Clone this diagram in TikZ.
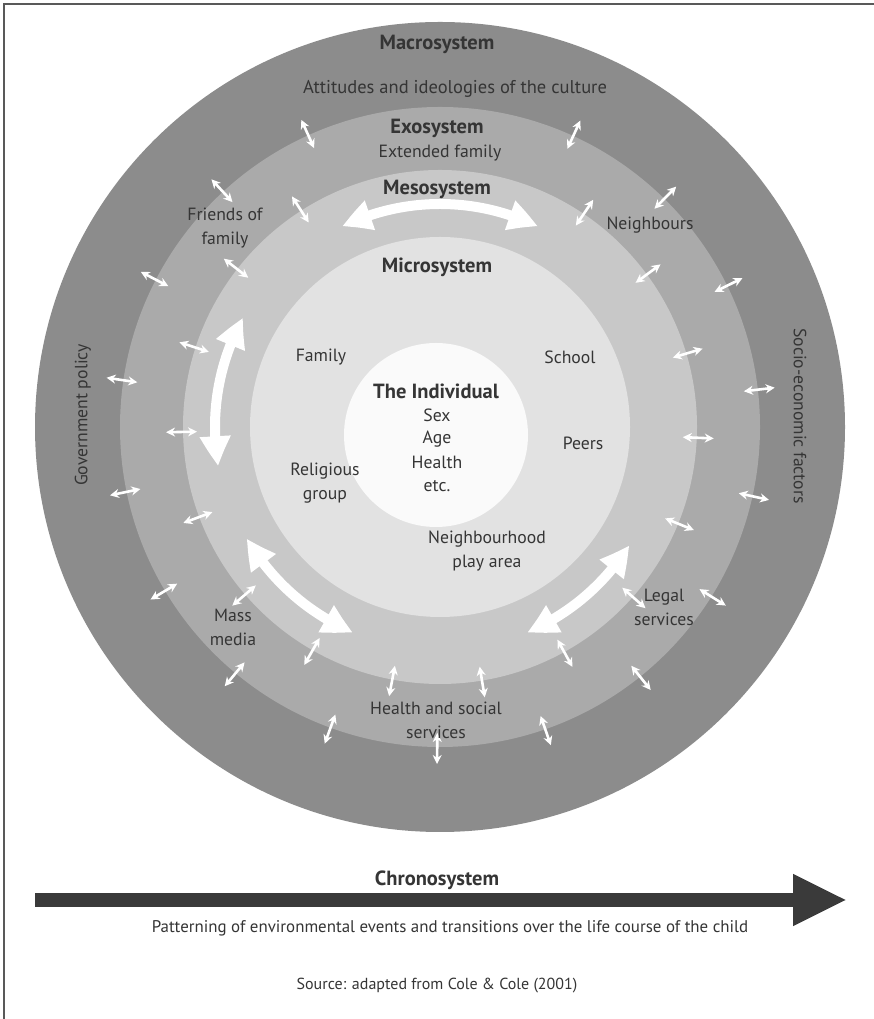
\documentclass[tikz,border=0pt]{standalone}
\usepackage{fontspec}
\setmainfont{PT Sans}
\usetikzlibrary{arrows.meta,bending}
\definecolor{macroc}{HTML}{8C8C8C}
\definecolor{exoc}{HTML}{AAAAAA}
\definecolor{mesoc}{HTML}{C8C8C8}
\definecolor{microc}{HTML}{E2E2E2}
\definecolor{indivc}{HTML}{FAFAFA}
\definecolor{txt}{HTML}{353535}
\definecolor{chrono}{HTML}{3A3A3A}
\begin{document}
\begin{tikzpicture}[x=1pt,y=1pt,
  lab/.style={text=txt, font=\fontsize{17.7}{24}\selectfont, align=center, inner sep=0pt},
  head/.style={text=txt, font=\fontsize{20.5}{24}\selectfont\bfseries, align=center, inner sep=0pt},
  smallarr/.style={white, line width=2.6pt, {Stealth[length=9pt,width=9pt]}-{Stealth[length=9pt,width=9pt]}},
  bigarr/.style={white, line width=10pt, {Triangle[length=30pt,width=29pt,bend]}-{Triangle[length=30pt,width=29pt,bend]}}
]
\useasboundingbox (0,0) rectangle (874,1019);
\fill[white] (0,0) rectangle (874,1019);
\draw[line width=2pt, black!65] (4,0) -- (4,1015) -- (874,1015);
\coordinate (C) at (440,592);
% rings
\fill[macroc] (C) circle[radius=405pt];
\fill[exoc] (C) circle[radius=320pt];
\fill[mesoc] (C) circle[radius=257pt];
\fill[microc] (C) circle[radius=190pt];
\fill[indivc] (436,584) circle[radius=92pt];
% big curved arrows in the mesosystem ring
\draw[bigarr, shift={(C)}] (116:223) arc[start angle=116, end angle=64, radius=223pt];
\draw[bigarr, shift={(C)}] (151:225) arc[start angle=151, end angle=190, radius=225pt];
\draw[bigarr, shift={(C)}] (210:223) arc[start angle=210, end angle=247, radius=223pt];
\draw[bigarr, shift={(C)}] (293:223) arc[start angle=293, end angle=328, radius=223pt];
% small double arrows, macro/exo boundary
\foreach \a in {114.3,65.4,132.7,45.5,26.2,6.7,-12.5,152.6,171.6,191.7,210.8,230.3,250,269.5,289.2,308.7,328}
  \draw[smallarr, shift={(C)}] (\a:306) -- (\a:337);
% small double arrows, exo/meso boundary
\foreach \a in {122.7,142.1,56,36.4,16.6,-2.4,-22.1,162,181.1,200.5,220.7,240.3,259.3,279.4,298.9,318.6}
  \draw[smallarr, shift={(C)}] (\a:243) -- (\a:274);
% texts
\node[head] (macro) at (437,975) {Macrosystem};
\node[lab, font=\fontsize{18.5}{24}\selectfont] (att) at (455,930) {Attitudes and ideologies of the culture};
\node[head] (exo) at (437,891) {Exosystem};
\node[lab] (ext) at (440,866) {Extended family};
\node[head] (meso) at (437,830) {Mesosystem};
\node[head] (micro) at (437,752) {Microsystem};
\node[lab] (friends) at (225,791) {Friends of\\family};
\node[lab] (neigh) at (650,794) {Neighbours};
\node[lab] (family) at (321,662) {Family};
\node[lab] (school) at (570,662) {School};
\node[head] (indiv) at (436,628) {The Individual};
\node[lab] (sex) at (437,604) {Sex};
\node[lab] (age) at (437,580) {Age};
\node[lab] (health) at (437,557) {Health};
\node[lab] (etc) at (437,533) {etc.};
\node[lab] (peers) at (583,576) {Peers};
\node[lab] (relig) at (325,536) {Religious\\group};
\node[lab] (play) at (487,468) {Neighbourhood\\play area};
\node[lab] (mass) at (233,392) {Mass\\media};
\node[lab] (legal) at (664,412) {Legal\\services};
\node[lab] (hss) at (436,299) {Health and social\\services};
\node[lab, rotate=90] (gov) at (83,604) {Government policy};
\node[lab, rotate=-90] (socio) at (800,603) {Socio-economic factors};
% chronosystem
\node[head] (chrono) at (437,139) {Chronosystem};
\coordinate (cs) at (35,119);
\coordinate (ce) at (847,119);
\draw[chrono, line width=14pt, -{Triangle[length=54pt,width=48pt]}] (cs) -- (ce);
\node[lab, font=\fontsize{16.9}{20}\selectfont] (patt) at (450,91) {Patterning of environmental events and transitions over the life course of the child};
\node[lab, font=\fontsize{16}{19}\selectfont] (src) at (437,33) {Source: adapted from Cole \& Cole (2001)};
\end{tikzpicture}
\end{document}
